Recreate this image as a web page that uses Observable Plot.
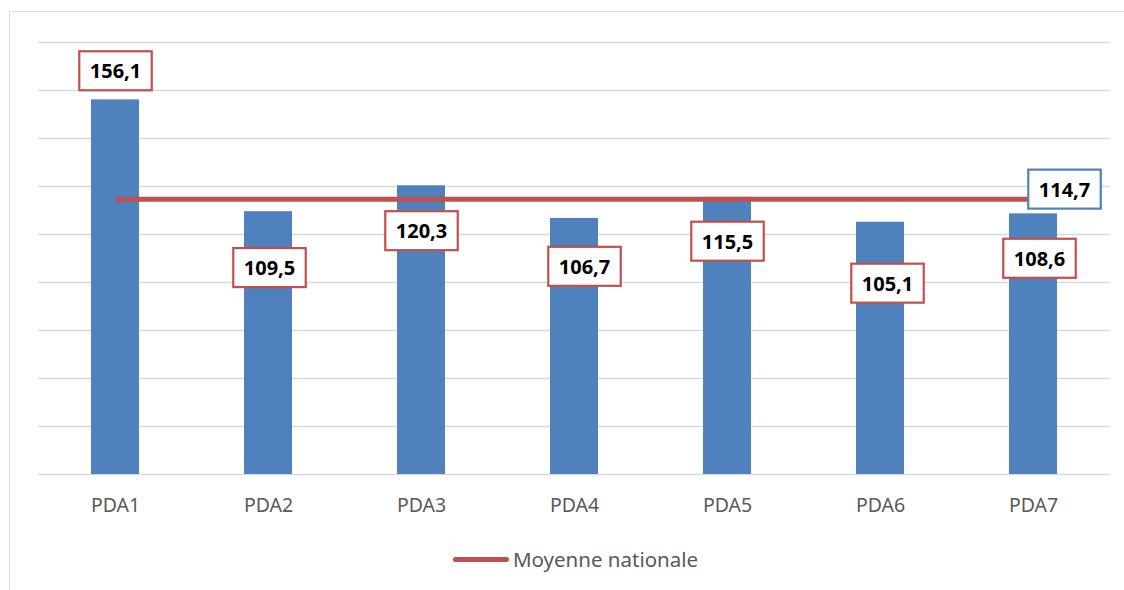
<!DOCTYPE html>
<html>
<head>
<meta charset="utf-8">
<script src="https://cdn.jsdelivr.net/npm/d3@7"></script>
<script src="https://cdn.jsdelivr.net/npm/@observablehq/plot@0.6"></script>
<style>
  html, body { margin: 0; padding: 0; background: #fff; }
  #wrap { position: relative; width: 1124px; height: 590px; overflow: hidden; font-family: "Noto Sans", sans-serif; }
  #frame { position: absolute; left: 9px; top: 11px; width: 1200px; height: 700px; border-left: 1.5px solid #d9d9d9; border-top: 1.5px solid #d9d9d9; }
  #chart { position: absolute; left: 0; top: 0; }
  #legend { position: absolute; left: 453px; top: 545px; height: 28px; display: flex; align-items: center; color: #595959; font-size: 20.5px; }
  #legend .sw { width: 56px; height: 5px; background: #c0504d; border-radius: 3px; margin-right: 4px; }
</style>
</head>
<body>
<div id="wrap">
  <div id="frame"></div>
  <div id="chart"></div>
  <div id="legend"><span class="sw"></span><span id="legtext"></span></div>
</div>
<script>
// ---- data ----
const categories = ["PDA1", "PDA2", "PDA3", "PDA4", "PDA5", "PDA6", "PDA7"];
const values = [156.1, 109.5, 120.3, 106.7, 115.5, 105.1, 108.6];
const nationalMean = 114.7;
const meanLabel = "Moyenne nationale";
const yTicks = [0, 20, 40, 60, 80, 100, 120, 140, 160, 180];

// ---- layout (label offsets in pixels, from bar top) ----
const labelDx = [0, 1, 0, 10, 0, 7, 6];
const labelDy = [-28, 57, 46, 49, 45, 62, 45.5];
const meanLabelDx = 31, meanLabelDy = -9;

const fmt = v => v.toFixed(1).replace(".", ",");
const rows = categories.map((c, i) => ({cat: c, value: values[i], label: fmt(values[i]), dx: labelDx[i], dy: labelDy[i]}));
const meanRows = categories.map(c => ({cat: c, value: nationalMean}));
const meanLabelRow = [{cat: categories[categories.length - 1], value: nationalMean, label: fmt(nationalMean), dx: meanLabelDx, dy: meanLabelDy}];

document.getElementById("legtext").textContent = meanLabel;

const chart = Plot.plot({
  width: 1124,
  height: 590,
  marginLeft: 38,
  marginRight: 14,
  marginTop: 42,
  marginBottom: 116,
  style: {fontFamily: "Noto Sans, sans-serif", background: "transparent", overflow: "visible"},
  x: {domain: categories, paddingInner: 0.6866, paddingOuter: 0.3433, label: null},
  y: {domain: [0, 180], axis: null},
  marks: [
    Plot.ruleY(yTicks, {stroke: "#d9d9d9", strokeWidth: 1.3}),
    Plot.barY(rows, {x: "cat", y: "value", fill: "#4f81bd"}),
    Plot.axisX({tickSize: 0, tickPadding: 24, fontSize: 19.5, fill: "#595959", label: null}),
    Plot.lineY(meanRows, {x: "cat", y: "value", stroke: "#c0504d", strokeWidth: 5, strokeLinecap: "butt"}),
    Plot.text(rows, {x: "cat", y: "value", text: "label", fontSize: 20, fontWeight: "bold", fill: "#000"}),
    Plot.text(meanLabelRow, {x: "cat", y: "value", text: "label", fontSize: 20, fontWeight: "bold", fill: "#000"})
  ]
});
document.getElementById("chart").appendChild(chart);

// draw boxes around value labels
function boxify(group, data, stroke) {
  d3.select(group).selectAll("text").each(function(_, i) {
    const d = data[i];
    const t = d3.select(this);
    const tr = (t.attr("transform") || "") + ` translate(${d.dx},${d.dy})`;
    t.attr("transform", tr);
    const bb = this.getBBox();
    const padX = 10.5, padY = 6;
    const r = document.createElementNS("http://www.w3.org/2000/svg", "rect");
    this.parentNode.insertBefore(r, this);
    d3.select(r)
      .attr("transform", tr)
      .attr("x", bb.x - padX)
      .attr("y", bb.y - padY)
      .attr("width", bb.width + 2 * padX)
      .attr("height", bb.height + 2 * padY)
      .attr("fill", "#fff")
      .attr("stroke", stroke)
      .attr("stroke-width", 2.2);
  });
}
const textGroups = chart.querySelectorAll('g[aria-label="text"]');
boxify(textGroups[0], rows, "#c0504d");
boxify(textGroups[1], meanLabelRow, "#4f81bd");
</script>
</body>
</html>
